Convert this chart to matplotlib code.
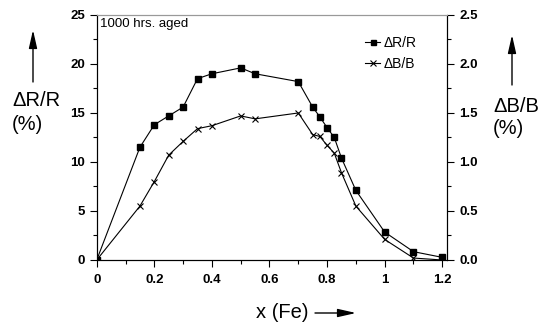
import matplotlib
matplotlib.use("Agg")
import matplotlib.pyplot as plt
from matplotlib.patches import FancyArrowPatch
from matplotlib.ticker import MultipleLocator, FormatStrFormatter

plt.rcParams['font.family'] = ['Liberation Sans', 'DejaVu Sans']

x_R = [0, 0.15, 0.2, 0.25, 0.3, 0.35, 0.4, 0.5, 0.55, 0.7, 0.75, 0.775, 0.8, 0.825, 0.85, 0.9, 1.0, 1.1, 1.2]
dR = [0, 11.5, 13.8, 14.7, 15.6, 18.5, 19.0, 19.6, 19.0, 18.2, 15.6, 14.6, 13.5, 12.5, 10.4, 7.1, 2.85, 0.85, 0.27]

x_B = [0, 0.15, 0.2, 0.25, 0.3, 0.35, 0.4, 0.5, 0.55, 0.7, 0.75, 0.775, 0.8, 0.825, 0.85, 0.9, 1.0, 1.1, 1.2]
dB = [0, 0.55, 0.80, 1.07, 1.21, 1.34, 1.37, 1.47, 1.44, 1.50, 1.28, 1.26, 1.17, 1.09, 0.89, 0.55, 0.21, 0.02, 0.0]

W, H = 548, 325
fig = plt.figure(figsize=(5.48, 3.25), dpi=100)
ax = fig.add_axes([0.1765, 0.2, 0.64, 0.754])
ax2 = ax.twinx()

lR, = ax.plot(x_R, dR, color='black', lw=0.8, marker='s', ms=4.5, label='ΔR/R')
lB, = ax2.plot(x_B, dB, color='black', lw=0.8, marker='x', ms=5, mew=0.8, label='ΔB/B')

ax.set_xlim(0, 1.218)
ax.set_ylim(0, 25)
ax2.set_ylim(0, 2.5)

ax.xaxis.set_major_locator(MultipleLocator(0.2))
ax.xaxis.set_minor_locator(MultipleLocator(0.1))
ax.yaxis.set_major_locator(MultipleLocator(5))
ax.yaxis.set_minor_locator(MultipleLocator(2.5))
ax2.yaxis.set_major_locator(MultipleLocator(0.5))
ax2.yaxis.set_minor_locator(MultipleLocator(0.25))
ax2.yaxis.set_major_formatter(FormatStrFormatter('%.1f'))
ax.set_xticks([0, 0.2, 0.4, 0.6, 0.8, 1.0, 1.2])
ax.set_xticklabels(['0', '0.2', '0.4', '0.6', '0.8', '1', '1.2'])

for a in (ax, ax2):
    a.tick_params(which='major', direction='out', length=5, width=0.8, labelsize=9.5)
    a.tick_params(which='minor', direction='out', length=3, width=0.8)
    for lab in a.get_xticklabels() + a.get_yticklabels():
        lab.set_fontweight('bold')
    a.spines['top'].set_color('#999999')
ax.tick_params(axis='x', pad=5)

ax.text(100/W, 1 - 18/H, '1000 hrs. aged', transform=fig.transFigure, fontsize=9.5, va='top', ha='left')

ax.legend(handles=[lR, lB], loc='upper left', bbox_to_anchor=(365/W, 1 - 36/H),
          bbox_transform=fig.transFigure, frameon=False, borderpad=0, borderaxespad=0,
          fontsize=10, handlelength=1.1, handletextpad=0.25, labelspacing=0.5, markerscale=0.8)

astyle = '-|>,head_length=1.1,head_width=0.25'

def arrow(x0, y0, x1, y1):
    fig.add_artist(FancyArrowPatch((x0/W, 1 - y0/H), (x1/W, 1 - y1/H), transform=fig.transFigure,
                                   arrowstyle=astyle, mutation_scale=10, color='black', lw=1,
                                   shrinkA=0, shrinkB=0))

# left label and arrow
fig.text(12/W, 1 - 101/H, 'ΔR/R', fontsize=14.5, ha='left', va='center')
fig.text(12/W, 1 - 124/H, '(%)', fontsize=14.5, ha='left', va='center')
arrow(33, 82, 33, 30)
# right label and arrow
fig.text(493/W, 1 - 106/H, 'ΔB/B', fontsize=14.5, ha='left', va='center')
fig.text(493/W, 1 - 129/H, '(%)', fontsize=14.5, ha='left', va='center')
arrow(512, 85, 512, 35)
# x label and arrow
fig.text(282/W, 1 - 313/H, 'x (Fe)', fontsize=14.5, ha='center', va='center')
arrow(315, 313, 356, 313)

fig.savefig('out.png', dpi=100)
